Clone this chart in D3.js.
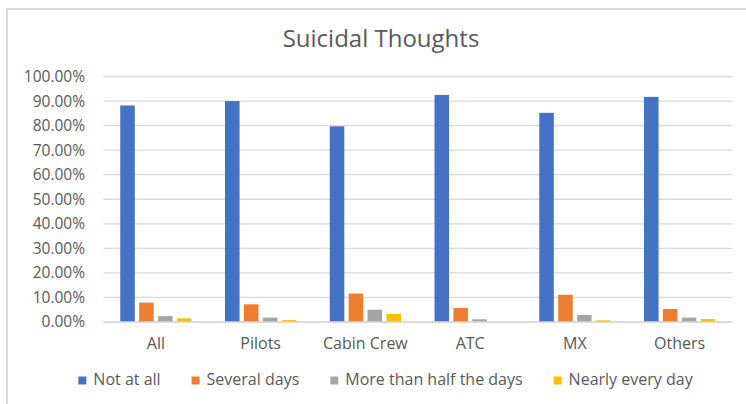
<!DOCTYPE html>
<html>
<head>
<meta charset="utf-8">
<script src="https://cdn.jsdelivr.net/npm/d3@7/dist/d3.min.js"></script>
<style>
  html, body { margin: 0; padding: 0; background: #fff; }
  svg { display: block; font-family: "Open Sans", sans-serif; }
</style>
</head>
<body>
<svg id="chart" width="746" height="404"></svg>
<script>
const title = "Suicidal Thoughts";
const categories = ["All", "Pilots", "Cabin Crew", "ATC", "MX", "Others"];
const seriesNames = ["Not at all", "Several days", "More than half the days", "Nearly every day"];
const seriesColors = ["#4472C4", "#ED7D31", "#A5A5A5", "#FFC000"];
const notAtAll      = [0.882, 0.900, 0.797, 0.925, 0.852, 0.917];
const severalDays   = [0.079, 0.072, 0.116, 0.057, 0.111, 0.053];
const moreThanHalf  = [0.024, 0.018, 0.050, 0.011, 0.029, 0.018];
const nearlyEvery   = [0.015, 0.008, 0.033, 0.000, 0.007, 0.012];
const yTicks = [0, 0.1, 0.2, 0.3, 0.4, 0.5, 0.6, 0.7, 0.8, 0.9, 1.0];

const seriesValues = [notAtAll, severalDays, moreThanHalf, nearlyEvery];

const svg = d3.select("#chart");
const W = 746, H = 404;
const plot = { left: 103.5, right: 732, top: 76.5, bottom: 322 };

// frame
svg.append("rect")
  .attr("x", 7).attr("y", 9)
  .attr("width", W + 20).attr("height", H + 20)
  .attr("fill", "#fff").attr("stroke", "#d9d9d9").attr("stroke-width", 2);

// title
svg.append("text")
  .attr("x", 381).attr("y", 47)
  .attr("text-anchor", "middle")
  .attr("font-size", 24)
  .attr("fill", "#595959")
  .text(title);

const y = d3.scaleLinear().domain([0, 1]).range([plot.bottom, plot.top]);
const x0 = d3.scaleBand().domain(categories).range([plot.left, plot.right])
  .paddingInner(0.32).paddingOuter(0.16);
const x1 = d3.scaleBand().domain(d3.range(seriesNames.length)).range([0, x0.bandwidth()])
  .paddingInner(0.23).paddingOuter(0);

// gridlines
svg.append("g")
  .selectAll("line")
  .data(yTicks)
  .join("line")
  .attr("x1", plot.left).attr("x2", plot.right)
  .attr("y1", d => y(d)).attr("y2", d => y(d))
  .attr("stroke", "#d9d9d9").attr("stroke-width", 1.3);

// y axis labels
const yAxis = d3.axisLeft(y).tickValues(yTicks).tickSize(0).tickPadding(0)
  .tickFormat(d => (d * 100).toFixed(2) + "%");
const gy = svg.append("g").attr("transform", `translate(85,0)`).call(yAxis);
gy.select(".domain").remove();
gy.selectAll("text").attr("font-family", "Open Sans").attr("font-size", 15.5).attr("fill", "#595959");

// bars
const groups = svg.append("g").selectAll("g")
  .data(categories)
  .join("g")
  .attr("transform", d => `translate(${x0(d)},0)`);
groups.selectAll("rect")
  .data((c, ci) => seriesValues.map((vals, si) => ({ si, v: vals[ci] })))
  .join("rect")
  .attr("x", d => x1(d.si))
  .attr("width", x1.bandwidth())
  .attr("y", d => y(d.v))
  .attr("height", d => y(0) - y(d.v))
  .attr("fill", d => seriesColors[d.si]);

// baseline
svg.append("line")
  .attr("x1", plot.left).attr("x2", plot.right)
  .attr("y1", y(0)).attr("y2", y(0))
  .attr("stroke", "#d9d9d9").attr("stroke-width", 1.5);

// x axis labels
const xAxis = d3.axisBottom(x0).tickSize(0).tickPadding(0);
const gx = svg.append("g").attr("transform", `translate(0,349)`).call(xAxis);
gx.select(".domain").remove();
gx.selectAll("text").attr("dy", 0).attr("font-family", "Open Sans").attr("font-size", 16).attr("fill", "#595959");

// legend
const legendGap = 31;
const legend = svg.append("g");
const items = legend.selectAll("g").data(seriesNames).join("g");
items.append("rect")
  .attr("x", 0).attr("y", 376.5).attr("width", 8).attr("height", 8)
  .attr("fill", (d, i) => seriesColors[i]);
items.append("text")
  .attr("x", 15).attr("y", 385)
  .attr("font-size", 16).attr("fill", "#595959")
  .text(d => d);
let offsets = [], cur = 0;
items.each(function () {
  const w = 15 + d3.select(this).select("text").node().getComputedTextLength();
  offsets.push(cur);
  cur += w + legendGap;
});
const total = cur - legendGap;
const startX = 385.5 - total / 2;
items.attr("transform", (d, i) => `translate(${startX + offsets[i]},0)`);
</script>
</body>
</html>
